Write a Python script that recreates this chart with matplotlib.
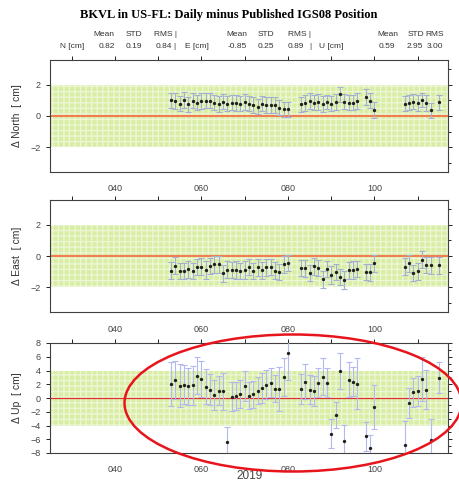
import matplotlib
matplotlib.use("Agg")
import matplotlib.pyplot as plt
from matplotlib.patches import Ellipse
from matplotlib.ticker import MultipleLocator, FixedLocator

W, H = 459, 483

days = [53, 54, 55, 56, 57, 58, 59, 60, 61, 62, 63, 64, 65, 66, 67, 68, 69, 70,
        71, 72, 73, 74, 75, 76, 77, 78, 79, 80,
        83, 84, 85, 86, 87, 88, 89, 90, 91, 92, 93, 94, 95, 96,
        98, 99, 100,
        107, 108, 109, 110, 111, 112, 113, 115]

north = [1.00, 0.97, 0.78, 1.03, 0.74, 0.99, 0.86, 0.99, 0.99, 0.99, 0.84, 0.78, 0.93, 0.80,
         0.86, 0.84, 0.78, 0.90, 0.80, 0.72, 0.61, 0.78, 0.69, 0.69, 0.69, 0.53, 0.42, 0.42,
         0.74, 0.84, 0.95, 0.84, 0.90, 0.78, 0.90, 0.80, 0.90, 1.39, 0.93, 0.86, 0.86, 0.95,
         1.20, 0.99, 0.38,
         0.78, 0.86, 0.93, 0.82, 1.03, 0.84, 0.38, 0.88]
north_err = [0.50, 0.50, 0.48, 0.50, 0.50, 0.48, 0.50, 0.52, 0.50, 0.50, 0.48, 0.50, 0.48, 0.50,
             0.50, 0.50, 0.48, 0.50, 0.50, 0.50, 0.50, 0.48, 0.50, 0.50, 0.50, 0.48, 0.48, 0.48,
             0.50, 0.50, 0.50, 0.48, 0.50, 0.50, 0.48, 0.50, 0.50, 0.48, 0.50, 0.48, 0.48, 0.50,
             0.52, 0.50, 0.50,
             0.48, 0.50, 0.50, 0.50, 0.48, 0.50, 0.48, 0.50]

east = [-0.95, -0.63, -0.95, -0.95, -0.84, -0.95, -0.69, -0.69, -0.90, -0.63, -0.53, -0.53,
        -1.12, -0.88, -0.90, -0.90, -0.95, -0.90, -0.72, -0.95, -0.72, -0.93, -0.72, -0.72,
        -0.95, -1.05, -0.53, -0.44,
        -0.78, -0.80, -1.10, -0.67, -0.78, -1.50, -0.86, -1.22, -1.03, -1.37, -1.54, -0.93,
        -0.90, -0.82,
        -1.05, -1.05, -0.48,
        -0.69, -0.48, -1.10, -0.99, -0.25, -0.59, -0.59, -0.59]
east_err = [0.55, 0.55, 0.52, 0.52, 0.55, 0.52, 0.52, 0.55, 0.55, 0.52, 0.55, 0.55,
            0.52, 0.55, 0.52, 0.55, 0.52, 0.55, 0.52, 0.52, 0.55, 0.52, 0.55, 0.52,
            0.55, 0.52, 0.55, 0.52,
            0.52, 0.55, 0.52, 0.55, 0.52, 0.55, 0.52, 0.55, 0.52, 0.52, 0.55, 0.52,
            0.55, 0.52,
            0.52, 0.55, 0.52,
            0.55, 0.52, 0.52, 0.55, 0.55, 0.52, 0.55, 0.55]

up = [2.00, 2.60, 1.80, 1.95, 1.70, 1.85, 3.27, 2.73, 1.66, 1.22, 0.49, 1.07, 0.98, -6.34,
      0.20, 0.29, 0.59, 1.80, 0.34, 0.54, 1.07, 1.41, 1.95, 2.20, 1.37, 1.27, 3.07, 6.49,
      1.27, 2.39, 1.22, 1.07, 2.20, 3.07, 2.20, -5.17, -2.44, 3.90, -6.24, 2.68, 2.39, 2.10,
      -5.56, -7.22, -1.32,
      -6.88, -0.68, 0.83, 1.07, 2.78, 1.22, -6.10, 2.98]
up_err = [3.2, 2.8, 3.1, 2.8, 2.7, 2.8, 2.7, 2.6, 2.6, 2.3, 2.2, 2.1, 2.7, 2.1,
          2.1, 2.1, 2.0, 2.2, 2.0, 2.0, 2.0, 2.2, 2.1, 2.1, 2.0, 3.2, 2.8, 3.8,
          2.2, 2.6, 2.1, 2.2, 2.1, 2.7, 2.1, 2.1, 1.9, 2.6, 2.3, 2.6, 2.1, 3.7,
          2.1, 1.9, 3.2,
          3.6, 2.2, 2.1, 2.2, 3.2, 2.8, 3.1, 2.2]

xticks = [40, 60, 80, 100]
xticklabels = ["040", "060", "080", "100"]

title = "BKVL in US-FL: Daily minus Published IGS08 Position"
stat_head = [("Mean", 104), ("STD", 134), ("RMS |", 166),
             ("Mean", 237), ("STD", 266), ("RMS |", 300),
             ("Mean", 388), ("STD", 416), ("RMS", 435)]
stat_vals = [("N [cm]", 72), ("0.82", 107), ("0.19", 134), ("0.84", 164), ("|", 174),
             ("E [cm]", 197), ("-0.85", 237), ("0.25", 266), ("0.89", 296), ("|", 310),
             ("U [cm]", 331), ("0.59", 387), ("2.95", 415), ("3.00", 435)]

plt.rcParams["font.family"] = ["Liberation Sans", "DejaVu Sans"]
plt.rcParams["hatch.linewidth"] = 0.9

fig = plt.figure(figsize=(W / 100, H / 100), dpi=100)


def px(x, y):
    return x / W, 1 - y / H


def panel(top, bottom, vals, errs, band, ylim, major, ylabel, zero_color, zero_lw, err_color):
    ax = fig.add_axes([50 / W, 1 - bottom / H, 398 / W, (bottom - top) / H])
    ax.axhspan(-band, band, facecolor="#d9eea4", edgecolor="#edf7d8", hatch="+++",
               linewidth=0, zorder=0)
    ax.axhline(0, color=zero_color, lw=zero_lw, zorder=1)
    ax.errorbar(days, vals, yerr=errs, fmt="o", ms=1.4, color="#202020",
                ecolor=err_color, elinewidth=0.8, capsize=2.0, capthick=0.8, zorder=3)
    ax.set_xlim(25, 117)
    ax.set_ylim(*ylim)
    ax.set_xticks(xticks)
    ax.set_xticklabels(xticklabels)
    ax.xaxis.set_minor_locator(FixedLocator([30, 50, 70, 90, 110]))
    ax.yaxis.set_major_locator(MultipleLocator(major))
    ax.yaxis.set_minor_locator(MultipleLocator(1))
    ax.tick_params(axis="x", which="both", top=True, bottom=False, direction="out",
                   length=3, width=0.6, labelsize=6.5, labelcolor="#444444", pad=6)
    ax.tick_params(axis="y", which="major", left=True, right=True, direction="out",
                   length=3, width=0.6, labelsize=6.5, labelcolor="#444444")
    ax.tick_params(axis="y", which="minor", left=False, right=True, direction="out",
                   length=2, width=0.6)
    for s in ax.spines.values():
        s.set_color("#404040")
        s.set_linewidth(0.8)
    ax.set_ylabel(ylabel, fontsize=7.5, color="#333333", labelpad=6)
    return ax


panel(60, 172, north, north_err, 2, (-3.6, 3.6), 2, "Δ North  [ cm]",
      "#f27d52", 1.5, "#a3b0d2")
panel(200, 312, east, east_err, 2, (-3.6, 3.6), 2, "Δ East  [ cm]",
      "#f27d52", 1.5, "#a3b0d2")
panel(343, 453, up, up_err, 4, (-8, 8), 2, "Δ Up  [ cm]",
      "#e03030", 0.9, "#b3b9ee")

fig.text(*px(229, 15), title, ha="center", va="center", fontsize=9,
         fontweight="bold", family=["Liberation Serif", "DejaVu Serif"])
for s, x in stat_head:
    fig.text(*px(x, 35), s, ha="center", va="center", fontsize=6, color="#333333")
for s, x in stat_vals:
    fig.text(*px(x, 46), s, ha="center", va="center", fontsize=6, color="#333333")

fig.text(*px(250, 476), "2019", ha="center", va="center", fontsize=8.5, color="#444444")

# hand-drawn red ellipse around the Up panel
cx, cy = px(293, 403)
fig.add_artist(Ellipse((cx, cy), 337 / W, 137 / H, transform=fig.transFigure,
                       fill=False, edgecolor="#e8141c", lw=1.8, zorder=10))

fig.savefig("out.png", dpi=100)
